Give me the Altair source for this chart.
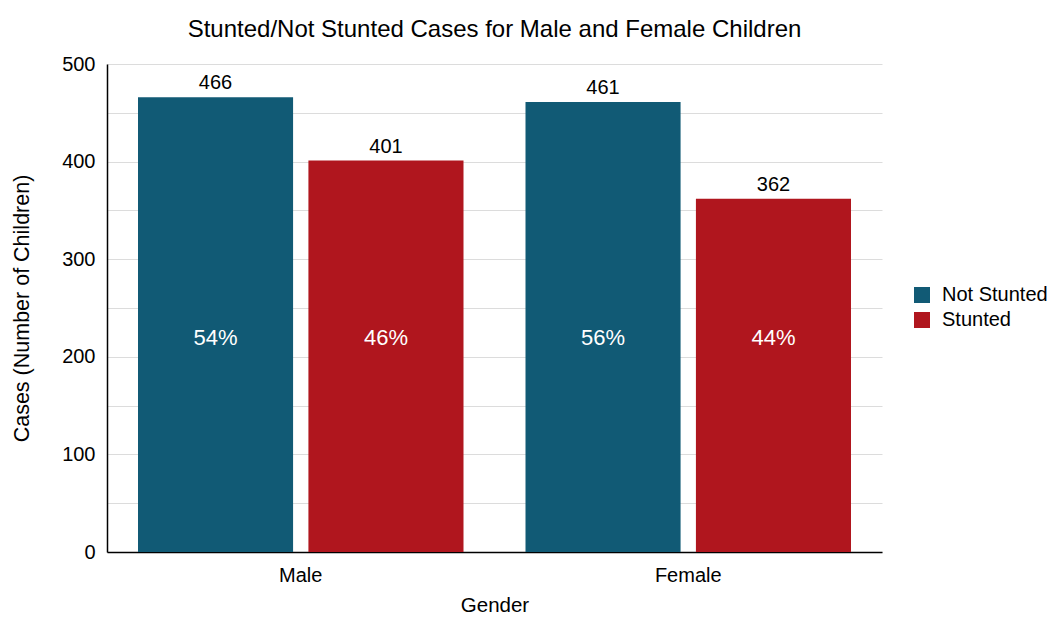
import altair as alt
import pandas as pd

genders = ["Male", "Male", "Female", "Female"]
statuses = ["Not Stunted", "Stunted", "Not Stunted", "Stunted"]
cases = [466, 401, 461, 362]
percents = ["54%", "46%", "56%", "44%"]
pct_y = [219, 219, 219, 219]

df = pd.DataFrame({"Gender": genders, "Status": statuses, "Cases": cases,
                   "Pct": percents, "PctY": pct_y})

FONT = "Liberation Sans"
x = alt.X("Gender:N", sort=["Male", "Female"],
          scale=alt.Scale(paddingInner=0.16, paddingOuter=0.08),
          axis=alt.Axis(title="Gender", labelAngle=0, ticks=False, domainColor="black",
                        domainWidth=1.5, labelFontSize=20, titleFontSize=20.5, labelPadding=13,
                        titlePadding=10, labelColor="black", titleColor="black",
                        labelFont=FONT, titleFont=FONT, titleFontWeight="normal"))
xo = alt.XOffset("Status:N", scale=alt.Scale(paddingInner=0.09, paddingOuter=0))
color = alt.Color("Status:N", scale=alt.Scale(domain=["Not Stunted", "Stunted"],
                                              range=["#115a75", "#b0161e"]),
                  legend=alt.Legend(title=None, orient="none", legendX=805, legendY=221,
                                    padding=0, labelFontSize=20,
                                    labelFont=FONT, labelColor="black", symbolType="square",
                                    symbolSize=256, symbolStrokeWidth=0, symbolOpacity=1,
                                    rowPadding=5, labelOffset=10))

bars = alt.Chart(df).mark_bar().encode(
    x=x, xOffset=xo,
    y=alt.Y("Cases:Q", scale=alt.Scale(domain=[0, 500], nice=False),
            axis=alt.Axis(title="Cases (Number of Children)", values=list(range(0, 501, 50)),
                          labelExpr="datum.value % 100 == 0 ? datum.label : ''",
                          ticks=False, domainColor="black", domainWidth=1.5,
                          gridColor="#dcdcdc", labelFontSize=20, titleFontSize=21.5,
                          labelPadding=12, titlePadding=28, labelColor="black",
                          titleColor="black", labelFont=FONT, titleFont=FONT,
                          titleFontWeight="normal")),
    color=color,
)

vals = alt.Chart(df).mark_text(baseline="bottom", dy=-4, fontSize=20, font=FONT,
                               color="black").encode(
    x=x, xOffset=xo, y="Cases:Q", text="Cases:Q")

pcts = alt.Chart(df).mark_text(baseline="middle", fontSize=22, font=FONT,
                               color="white").encode(
    x=x, xOffset=xo, y="PctY:Q", text="Pct:N")

chart = alt.layer(bars, vals, pcts).properties(
    width=775, height=488,
    title=alt.Title("Stunted/Not Stunted Cases for Male and Female Children", fontSize=24,
                    font=FONT, fontWeight="normal", color="black", offset=12),
    padding={"left": 107, "top": 64, "right": 171, "bottom": 65},
    autosize=alt.AutoSizeParams(type="none"),
).configure_view(stroke=None).configure_axis(gridWidth=1)

chart.save("out.html", embed_options={"renderer": "svg", "actions": False})
